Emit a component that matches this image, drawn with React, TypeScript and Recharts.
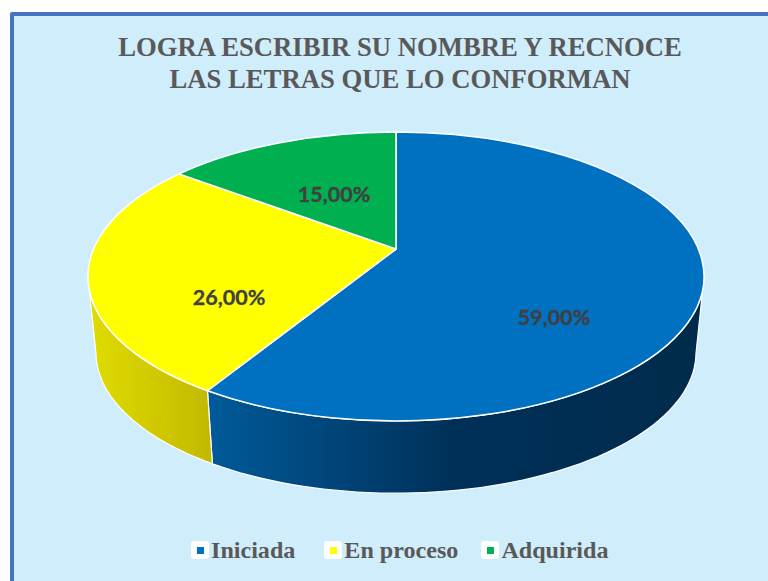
import { Legend, Pie, PieChart } from "recharts";

const categories = ["Iniciada", "En proceso", "Adquirida"];
const shares = [59, 26, 15];
const colors = ["#0070c0", "#ffff00", "#00b050"];
const titleLines = ["LOGRA ESCRIBIR SU NOMBRE Y RECNOCE", "LAS LETRAS QUE LO CONFORMAN"];

const rows = categories.map((name, i) => ({ name, value: shares[i], fill: colors[i] }));

// where the labels were dragged to in the original
const labelSpots: Record<string, { x: number; y: number }> = {
  Iniciada: { x: 554, y: 317 },
  "En proceso": { x: 229, y: 297 },
  Adquirida: { x: 334, y: 194 },
};

// the original legend is not evenly spaced
const legendGaps = [0, 29, 23];

const TILT = 0.469;
const SKEW = -0.19;
const DEPTH = 76;
const BOTTOM_SCALE = 0.974;

type Rim = { cx: number; cy: number; rx: number; ry: number };

// perspective projection of a point on the flat disc, t is the radial fraction
function project(angle: number, t: number, rim: Rim) {
  // the spokes bend about a degree in the original's 3D view
  const bent = angle + Math.sin((2 * angle * Math.PI) / 180);
  const rad = (bent * Math.PI) / 180;
  const u = Math.cos(rad) * t;
  const v = -Math.sin(rad) * t;
  const d = 1 + SKEW * v;
  return {
    x: rim.cx + (rim.rx * Math.sqrt(1 - SKEW * SKEW) * u) / d,
    y: rim.cy + (rim.ry * v + SKEW * rim.ry) / d,
  };
}

function TiltedSlice(props: any) {
  const { cx, cy, outerRadius, startAngle, endAngle, fill, index } = props;
  const top: Rim = { cx, cy, rx: outerRadius, ry: outerRadius * TILT };
  const bottom: Rim = {
    cx,
    cy: cy + DEPTH,
    rx: outerRadius * BOTTOM_SCALE,
    ry: outerRadius * TILT * BOTTOM_SCALE,
  };
  const apex = project(0, 0, top);
  const a = project(startAngle, 1, top);
  const b = project(endAngle, 1, top);
  const large = startAngle - endAngle > 180 ? 1 : 0;
  const face = `M${apex.x},${apex.y} L${a.x},${a.y} A${top.rx},${top.ry} 0 ${large} 1 ${b.x},${b.y} Z`;

  // front wall: only the part of the rim that faces the viewer
  const from = Math.min(startAngle, -11);
  const to = Math.max(endAngle, -169);
  let wall = null;
  if (from > to) {
    const upper = [];
    const lower = [];
    for (let i = 0; i <= 60; i++) {
      const ang = from + ((to - from) * i) / 60;
      upper.push(project(ang, 1, top));
      lower.unshift(project(ang, 1, bottom));
    }
    const pts = [...upper, ...lower].map((p) => `${p.x},${p.y}`).join(" ");
    wall = <polygon points={pts} fill={`url(#wall${index})`} stroke="#ffffff" strokeWidth={1.2} />;
  }

  return (
    <g>
      {wall}
      <path d={face} fill={fill} stroke="#ffffff" strokeWidth={1.5} strokeLinejoin="round" />
    </g>
  );
}

function SliceLabel(props: any) {
  const spot = labelSpots[props.name];
  return (
    <text
      x={spot.x}
      y={spot.y}
      textAnchor="middle"
      dominantBaseline="central"
      fontFamily="Lato"
      fontWeight={700}
      fontSize={21.5}
      fill="#404040"
      stroke="#404040"
      strokeWidth={0.3}
    >
      {props.value},00%
    </text>
  );
}

function LegendRow({ payload }: any) {
  return (
    <div style={{ display: "flex", paddingLeft: 191 }}>
      {(payload || []).map((item: any, i: number) => (
        <div
          key={item.value}
          style={{ display: "flex", alignItems: "center", columnGap: 2, marginLeft: legendGaps[i] }}
        >
          <span
            style={{
              width: 18,
              height: 18,
              background: "#ffffff",
              borderRadius: 3,
              display: "flex",
              alignItems: "center",
              justifyContent: "center",
            }}
          >
            <span style={{ width: 7, height: 7, background: item.color }} />
          </span>
          <span
            style={{
              fontFamily: "Liberation Serif",
              fontWeight: 700,
              fontSize: 24.1,
              lineHeight: "28px",
              color: "#595959",
            }}
          >
            {item.value}
          </span>
        </div>
      ))}
    </div>
  );
}

export default function App() {
  return (
    <div style={{ position: "absolute", left: 0, top: 0, width: 768, height: 581, overflow: "hidden", background: "#fff" }}>
      <div
        style={{
          position: "absolute",
          left: 10,
          top: 12,
          width: 800,
          height: 620,
          background: "#d0edfc",
          border: "4px solid #4472c4",
          borderRadius: 2,
        }}
      />
      <div style={{ position: "absolute", left: 0, top: 0 }}>
        <PieChart width={768} height={581} margin={{ top: 0, right: 0, bottom: 0, left: 0 }}>
          <defs>
            <linearGradient id="wall0" x1="0" y1="0" x2="1" y2="0">
              <stop offset="0" stopColor="#005a9a" />
              <stop offset="0.5" stopColor="#003058" />
              <stop offset="1" stopColor="#002b4c" />
            </linearGradient>
            <linearGradient id="wall1" x1="0" y1="0" x2="1" y2="0">
              <stop offset="0" stopColor="#e0dc00" />
              <stop offset="1" stopColor="#c2b900" />
            </linearGradient>
          </defs>
          {titleLines.map((line, i) => (
            <text
              key={line}
              x={400}
              y={56 + i * 31.5}
              textAnchor="middle"
              fontFamily="Liberation Serif"
              fontWeight={700}
              fontSize={26.7}
              fill="#595959"
            >
              {line}
            </text>
          ))}
          <Pie
            data={rows}
            dataKey="value"
            nameKey="name"
            cx={396}
            cy={276.5}
            outerRadius={308}
            startAngle={90}
            endAngle={-270}
            shape={TiltedSlice}
            label={SliceLabel}
            labelLine={false}
            stroke="none"
            isAnimationActive={false}
          />
          <Legend
            content={<LegendRow />}
            itemSorter={(item: any) => categories.indexOf(item.value)}
            wrapperStyle={{ position: "absolute", left: 0, top: 536, width: 768, height: 30 }}
          />
        </PieChart>
      </div>
    </div>
  );
}
